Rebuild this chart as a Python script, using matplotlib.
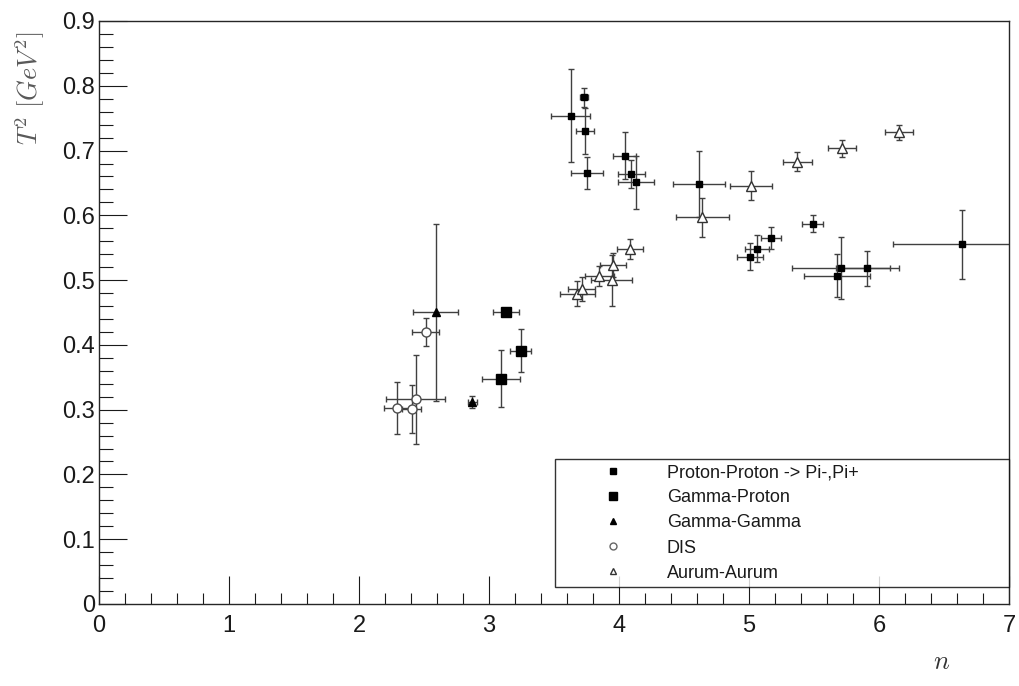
import numpy as np
import matplotlib
matplotlib.use("Agg")
import matplotlib.pyplot as plt
from matplotlib.lines import Line2D
from matplotlib.ticker import MultipleLocator

plt.rcParams['font.family'] = ['Liberation Sans', 'DejaVu Sans']
plt.rcParams['mathtext.fontset'] = 'cm'

# Proton-Proton -> Pi-,Pi+
pp_n = [3.628, 3.733, 3.738, 3.752, 4.044, 4.095, 4.131, 4.615, 5.008, 5.064,
        5.169, 5.490, 5.675, 5.708, 5.910, 6.636]
pp_t2 = [0.754, 0.782, 0.730, 0.665, 0.692, 0.664, 0.651, 0.649, 0.536, 0.5485,
         0.565, 0.587, 0.507, 0.519, 0.518, 0.555]
pp_dn = [0.15, 0.03, 0.07, 0.124, 0.087, 0.103, 0.136, 0.198, 0.098, 0.093,
         0.076, 0.079, 0.254, 0.376, 0.24, 0.53]
pp_dt2 = [0.072, 0.014, 0.035, 0.025, 0.036, 0.022, 0.041, 0.051, 0.021, 0.0205,
          0.017, 0.013, 0.033, 0.048, 0.027, 0.054]

# Gamma-Proton
gp_n = [3.131, 3.090, 3.244]
gp_t2 = [0.450, 0.348, 0.391]
gp_dn = [0.103, 0.146, 0.081]
gp_dt2 = [0.005, 0.044, 0.033]

# Gamma-Gamma
gg_n = [2.590, 2.872]
gg_t2 = [0.450, 0.312]
gg_dn = [0.175, 0.035]
gg_dt2 = [0.136, 0.009]

# DIS
dis_n = [2.513, 2.436, 2.295, 2.405]
dis_t2 = [0.4196, 0.316, 0.302, 0.3005]
dis_dn = [0.102, 0.228, 0.10, 0.074]
dis_dt2 = [0.022, 0.069, 0.040, 0.037]

# Aurum-Aurum
au_n = [3.679, 3.713, 3.848, 3.944, 3.956, 4.085, 4.641, 5.015, 5.372, 5.713, 6.154]
au_t2 = [0.479, 0.4865, 0.507, 0.4997, 0.524, 0.548, 0.597, 0.6456, 0.683, 0.7037, 0.728]
au_dn = [0.135, 0.103, 0.112, 0.159, 0.10, 0.099, 0.202, 0.16, 0.113, 0.109, 0.109]
au_dt2 = [0.0195, 0.018, 0.0154, 0.039, 0.0185, 0.016, 0.030, 0.0226, 0.015, 0.013, 0.012]

labels = ["Proton-Proton -> Pi-,Pi+", "Gamma-Proton", "Gamma-Gamma", "DIS", "Aurum-Aurum"]

fig = plt.figure(figsize=(10.19, 6.86), dpi=100)
ax = fig.add_axes([99/1019, 82/686, 910/1019, 583/686])

ecol = '0.25'
common = dict(linestyle='none', ecolor=ecol, elinewidth=1.0, capsize=2.5, capthick=1.0)

ax.errorbar(pp_n, pp_t2, xerr=pp_dn, yerr=pp_dt2, marker='s', ms=4.5,
            mfc='black', mec='black', **common)
ax.errorbar(gp_n, gp_t2, xerr=gp_dn, yerr=gp_dt2, marker='s', ms=7.5,
            mfc='black', mec='black', **common)
ax.errorbar(gg_n, gg_t2, xerr=gg_dn, yerr=gg_dt2, marker='^', ms=5.5,
            mfc='black', mec='black', **common)
ax.errorbar(dis_n, dis_t2, xerr=dis_dn, yerr=dis_dt2, marker='o', ms=6.5,
            mfc='white', mec='0.3', mew=1.0, **common)
ax.errorbar(au_n, au_t2, xerr=au_dn, yerr=au_dt2, marker='^', ms=7,
            mfc='white', mec='0.2', mew=1.0, **common)

ax.set_xlim(0, 7)
ax.set_ylim(0, 0.9)
ax.xaxis.set_major_locator(MultipleLocator(1))
ax.xaxis.set_minor_locator(MultipleLocator(0.2))
ax.yaxis.set_minor_locator(MultipleLocator(0.02))
ax.set_yticks(np.arange(0, 0.91, 0.1))
ax.set_yticklabels(['0'] + ['%.1f' % v for v in np.arange(0.1, 0.91, 0.1)])
ax.tick_params(which='both', direction='in', top=False, right=False, labelsize=17,
               colors='0.1', width=0.8)
ax.tick_params(which='major', length=20)
ax.tick_params(which='minor', length=10)
ax.tick_params(axis='x', which='minor', length=8)
ax.tick_params(axis='x', pad=8)
ax.tick_params(axis='y', pad=3)
for s in ax.spines.values():
    s.set_linewidth(1.0)
    s.set_color('0.15')

fig.text(30/1019, 1 - 88/686, r'$T^2\ [GeV^2]$', rotation=90, fontsize=19,
         color='0.35', ha='center', va='center')
fig.text(942/1019, 1 - 662/686, r'$n$', fontsize=19, color='0.2',
         ha='center', va='center')

handles = [
    Line2D([], [], ls='none', marker='s', ms=4, mfc='black', mec='black'),
    Line2D([], [], ls='none', marker='s', ms=6, mfc='black', mec='black'),
    Line2D([], [], ls='none', marker='^', ms=5, mfc='black', mec='black'),
    Line2D([], [], ls='none', marker='o', ms=5, mfc='white', mec='0.4'),
    Line2D([], [], ls='none', marker='^', ms=5, mfc='white', mec='0.2'),
]
leg = ax.legend(handles, labels, loc='lower left',
                bbox_to_anchor=(0.501, 0.029, 0.499, 0.215), mode='expand',
                fontsize=13, frameon=True, fancybox=False, shadow=False,
                borderpad=0.3, labelspacing=0.45, handlelength=5.8,
                handletextpad=0.1, borderaxespad=0.0, numpoints=1)
leg.get_frame().set_edgecolor('black')
leg.get_frame().set_linewidth(1.0)
for t in leg.get_texts():
    t.set_color('0.1')

fig.savefig("out.png", dpi=100)
